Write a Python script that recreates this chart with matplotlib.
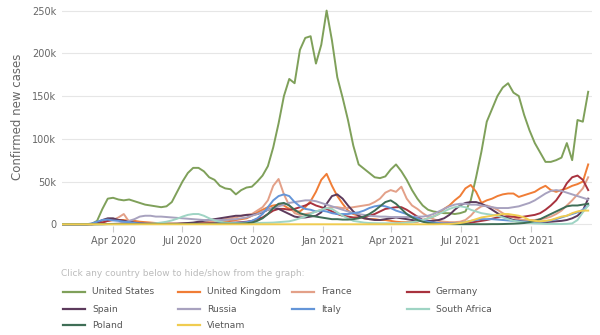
import pandas as pd
import matplotlib
matplotlib.use("Agg")
import matplotlib.pyplot as plt
import matplotlib.dates as mdates
from matplotlib.lines import Line2D
from matplotlib.ticker import FuncFormatter

# weekly points, thousands of confirmed new cases (7-day avg)
dates = pd.date_range("2020-01-22", periods=100, freq="7D")

us = [0, 0, 0, 0, 0, 0, 0.5, 4, 18, 30,
      31, 29, 28, 29, 27, 25, 23, 22, 21, 20,
      21, 26, 38, 50, 60, 66, 66, 62, 55, 52,
      45, 42, 41, 35, 40, 43, 44, 50, 57, 68,
      90, 118, 150, 170, 165, 204, 218, 220, 188, 210,
      250, 215, 172, 148, 122, 92, 70, 65, 60, 55,
      54, 56, 64, 70, 62, 52, 40, 30, 22, 17,
      15, 14, 13, 13, 12, 13, 15, 28, 55, 85,
      120, 135, 150, 160, 165, 154, 150, 128, 110, 95,
      84, 73, 73, 75, 78, 95, 75, 122, 120, 155]
uk = [0, 0, 0, 0, 0, 0, 0, 1, 3, 4,
      5, 5, 5, 4, 4, 3, 2.5, 2, 1.5, 1,
      0.8, 0.7, 0.6, 0.6, 0.7, 0.8, 1, 1, 1.2, 1.5,
      2, 3, 4, 5, 6, 7, 10, 14, 17, 20,
      22, 23, 22, 18, 15, 15, 20, 27, 38, 52,
      59, 45, 33, 24, 16, 12, 10, 7, 6, 6,
      5, 5, 4, 3, 2.5, 2.5, 2.5, 3, 5, 7,
      9, 12, 18, 22, 28, 33, 42, 46, 38, 25,
      28, 30, 33, 35, 36, 36, 32, 34, 36, 38,
      42, 45, 40, 38, 40, 42, 45, 47, 50, 70]
france = [0, 0, 0, 0, 0, 0, 0.5, 1.5, 3, 4,
          5, 8, 12, 3, 2, 1, 0.8, 0.5, 0.5, 0.5,
          0.5, 0.5, 0.5, 0.5, 0.5, 0.7, 1, 1.5, 3, 4,
          5, 6, 7, 8, 10, 11, 12, 16, 20, 28,
          45, 53, 35, 22, 13, 11, 12, 13, 15, 17,
          19, 20, 20, 19, 19, 20, 21, 22, 23, 26,
          30, 37, 40, 38, 44, 30, 22, 18, 13, 9,
          6, 4, 3, 2.5, 2.5, 3, 5, 10, 17, 21,
          22, 20, 17, 13, 10, 8, 6, 5, 5, 5,
          6, 7, 9, 12, 16, 22, 28, 35, 42, 55]
germany = [0, 0, 0, 0, 0, 0, 0, 0.5, 2, 4,
           5.5, 5, 4, 2.5, 1.5, 1, 0.7, 0.6, 0.5, 0.5,
           0.5, 0.5, 0.6, 0.7, 0.8, 0.9, 1, 1.1, 1.2, 1.3,
           1.5, 1.5, 1.8, 2, 2.5, 3, 4, 6, 8, 12,
           16, 18, 18, 17, 18, 20, 22, 25, 22, 20,
           18, 15, 12, 10, 9, 8, 8, 8, 10, 12,
           15, 18, 19, 20, 20, 17, 13, 9, 5, 3,
           2, 1, 0.8, 0.7, 0.8, 1, 1.5, 2, 3, 4,
           5, 6.5, 8, 9, 9, 9, 8, 9, 10, 11,
           13, 17, 22, 28, 37, 48, 55, 57, 52, 40]
spain = [0, 0, 0, 0, 0, 0, 0.5, 2, 5, 7,
         7, 5, 4, 3, 2, 1, 0.5, 0.5, 0.5, 0.5,
         0.5, 0.5, 0.5, 1, 1.5, 2, 3, 4, 5, 6,
         7, 8, 9, 10, 10, 11, 11, 12, 14, 17,
         19, 18, 15, 12, 9, 8, 8, 9, 10, 14,
         24, 33, 35, 30, 22, 15, 10, 7, 6, 5,
         5, 6, 7, 8, 7, 6, 5, 4, 4, 4,
         4, 5, 7, 11, 17, 22, 25, 26, 26, 24,
         21, 17, 13, 9, 7, 5, 4, 3, 2.5, 2,
         2, 2.5, 3, 3.5, 4, 5, 7, 10, 16, 30]
russia = [0, 0, 0, 0, 0, 0, 0, 0, 0, 0.3,
          0.5, 1, 2, 4, 6, 9, 10, 10, 9, 9,
          8.5, 8, 7.5, 7, 6.5, 6, 5.5, 5, 5, 5,
          5, 5, 5.5, 6, 7, 8, 10, 12, 15, 17,
          19, 21, 23, 25, 26, 27, 28, 28, 27, 25,
          23, 21, 19, 17, 15, 13, 12, 11, 10, 9.5,
          9, 9, 8.5, 8.5, 8.5, 8.5, 8.5, 9, 9, 10,
          12, 15, 18, 21, 23, 24, 24, 23, 23, 22,
          21, 20, 19, 19, 19, 20, 21, 23, 25, 28,
          32, 36, 39, 40, 39, 37, 35, 33, 31, 29]
italy = [0, 0, 0, 0, 0, 0, 1, 3, 5, 5.5,
         4.5, 4, 3, 2.5, 1.5, 1, 0.7, 0.3, 0.3, 0.3,
         0.3, 0.3, 0.3, 0.3, 0.3, 0.3, 0.3, 0.3, 0.3, 0.8,
         1.2, 1.5, 1.6, 1.7, 2, 2.5, 4, 7, 12, 20,
         28, 33, 35, 33, 26, 21, 18, 17, 15, 16,
         15, 13, 12, 12, 12, 13, 14, 16, 19, 21,
         22, 21, 19, 16, 14, 12, 9, 7, 5, 3,
         2, 1.5, 1, 1, 1.2, 1.5, 2.5, 4, 5, 6,
         6, 6, 5.5, 5, 4.5, 4, 3.5, 3, 3, 3,
         3, 3.5, 4.5, 6, 8, 10, 12, 14, 17, 22]
south_africa = [0, 0, 0, 0, 0, 0, 0, 0, 0, 0.1,
                0.1, 0.1, 0.1, 0.2, 0.2, 0.3, 0.5, 0.8, 1.2, 2,
                3, 4.5, 6.5, 9, 11, 12, 12, 10, 7, 4.5,
                3, 2, 1.5, 1.2, 1.2, 1.5, 1.5, 1.5, 1.7, 1.8,
                2, 2.5, 3, 3.5, 5, 7, 9, 12, 15, 17,
                19, 18, 14, 10, 7, 4, 3, 2, 1.5, 1.3,
                1.2, 1.2, 1.2, 1.3, 1.5, 2, 2.5, 3.5, 5, 7,
                9, 12, 15, 18, 20, 21, 20, 17, 15, 13,
                12, 11, 10, 8, 6, 4, 3, 2, 1.5, 1,
                0.8, 0.5, 0.4, 0.3, 0.3, 0.5, 1, 5, 14, 22]
poland = [0, 0, 0, 0, 0, 0, 0, 0.1, 0.2, 0.3,
          0.3, 0.3, 0.3, 0.3, 0.3, 0.3, 0.4, 0.4, 0.4, 0.4,
          0.4, 0.4, 0.5, 0.5, 0.5, 0.6, 0.6, 0.6, 0.6, 0.7,
          0.7, 0.7, 0.6, 0.6, 0.8, 1.2, 2, 4, 7, 12,
          19, 24, 25, 22, 17, 13, 11, 10, 9, 8,
          7, 6, 6, 5.5, 5.5, 6, 7, 9, 12, 16,
          21, 26, 28, 24, 18, 12, 8, 5, 3, 1.5,
          0.8, 0.4, 0.3, 0.2, 0.1, 0.1, 0.1, 0.1, 0.1, 0.1,
          0.1, 0.2, 0.2, 0.3, 0.5, 0.7, 1, 1.5, 2.5, 4,
          6, 9, 12, 15, 18, 21, 22, 22, 23, 24]
vietnam = [0] * 71 + [0.1, 0.2, 0.3, 0.8, 1.5, 2.5, 4, 6, 8,
                      9, 10, 11, 12, 12, 11, 10, 8, 5, 4,
                      3.5, 4, 5, 7, 9, 10, 13, 15, 16, 16]

countries = ["United States", "United Kingdom", "France", "Germany",
             "Spain", "Russia", "Italy", "South Africa", "Poland", "Vietnam"]
series = [us, uk, france, germany, spain, russia, italy, south_africa, poland, vietnam]
colors = ["#7fa05a", "#f07d36", "#e3a088", "#a8323e", "#5c3a5c",
          "#a8a2bf", "#6495d8", "#9fd4c4", "#3f6e56", "#f0cc50"]

plt.rcParams['font.family'] = ['DejaVu Sans']

fig = plt.figure(figsize=(6, 3.35), dpi=100)
ax = fig.add_axes([62 / 600, 1 - 226 / 335, 530 / 600, 218 / 335])

for name, vals, c in zip(countries, series, colors):
    ax.plot(dates, [v * 1000 for v in vals], color=c, lw=1.4, label=name)

ax.set_xlim(pd.Timestamp("2020-01-25"), pd.Timestamp("2021-12-20"))
ax.set_ylim(-2000, 253000)
ax.set_yticks([0, 50000, 100000, 150000, 200000, 250000])
ax.yaxis.set_major_formatter(FuncFormatter(lambda v, p: "0" if v == 0 else "%dk" % (v / 1000)))
ax.xaxis.set_major_locator(mdates.MonthLocator(bymonth=[1, 4, 7, 10]))
ax.xaxis.set_major_formatter(mdates.DateFormatter("%b %Y"))

ax.grid(axis="y", color="#e6e6e6", lw=0.8)
ax.set_axisbelow(True)
for s in ax.spines.values():
    s.set_visible(False)
ax.tick_params(axis="y", length=0, pad=4, labelsize=7, labelcolor="#666666")
ax.tick_params(axis="x", length=4, color="#cccccc", pad=3, labelsize=7, labelcolor="#666666")
ax.set_ylabel("Confirmed new cases", fontsize=8.5, color="#666666", labelpad=6)

# clickable legend area (static here)
fig.text(61 / 600, 1 - 274 / 335, "Click any country below to hide/show from the graph:",
         fontsize=6.5, color="#bbbbbb", va="center")
col_x = [63, 178, 292, 407]
row_y = [292, 309, 325]
for i, (name, c) in enumerate(zip(countries, colors)):
    x0 = col_x[i % 4]
    y0 = 1 - row_y[i // 4] / 335
    fig.add_artist(Line2D([x0 / 600, (x0 + 22) / 600], [y0, y0], color=c, lw=1.6))
    fig.text((x0 + 29) / 600, y0, name, fontsize=6.6, color="#555555", va="center")

fig.savefig("out.png", dpi=100)
